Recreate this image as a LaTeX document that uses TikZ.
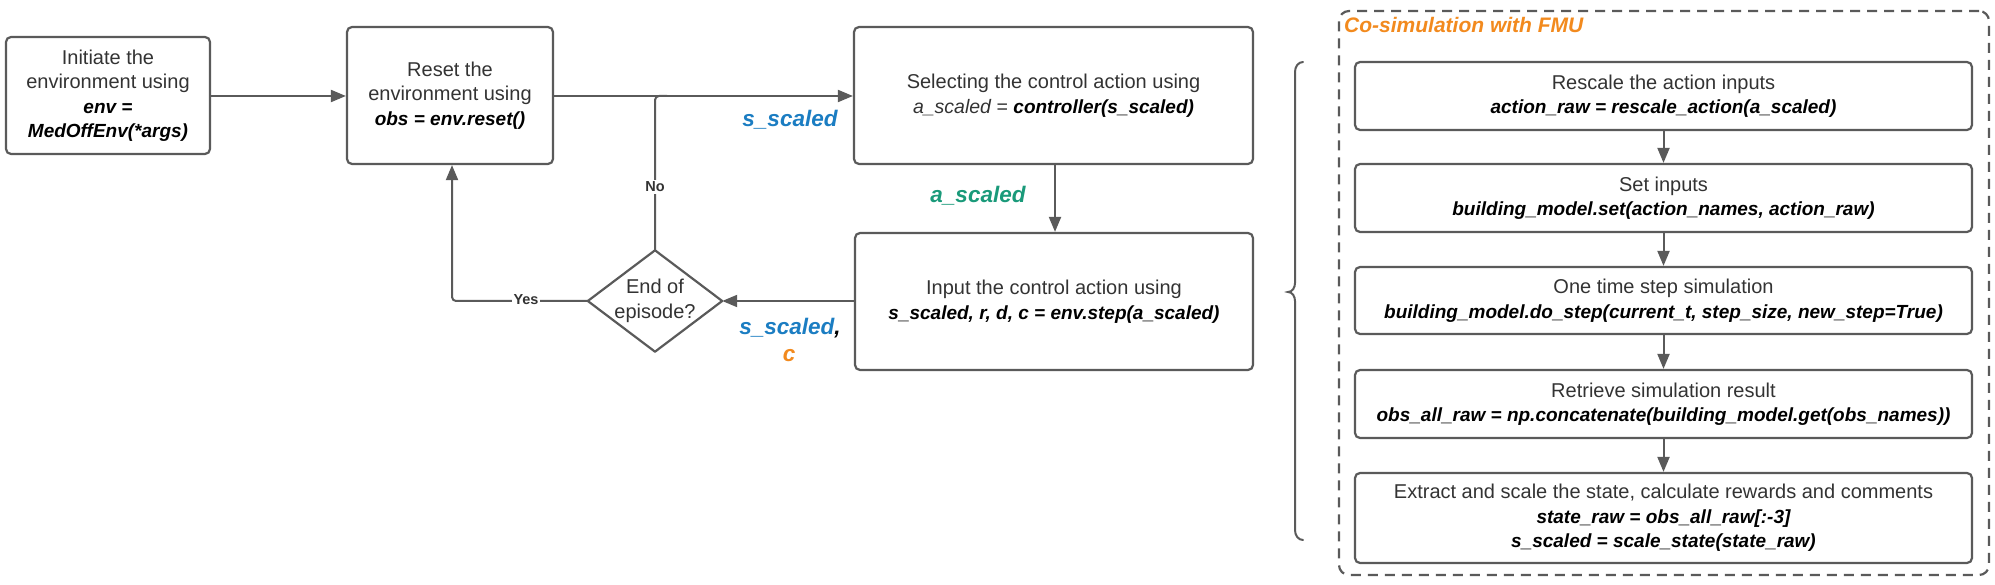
\documentclass[tikz,border=0pt]{standalone}
\usepackage{fontspec}
\setmainfont{Liberation Sans}
\usetikzlibrary{arrows.meta}
\definecolor{ln}{HTML}{5A5A5A}
\definecolor{tx}{HTML}{333333}
\definecolor{sblue}{HTML}{1B7DC2}
\definecolor{agreen}{HTML}{1A9A7A}
\definecolor{corange}{HTML}{F28A1E}
\newcommand\bi[1]{{\fontsize{19}{25}\selectfont\color{black}\bfseries\itshape #1}}
\newcommand\ri[1]{{\fontsize{19.5}{25}\selectfont\itshape #1}}
\begin{document}
\begin{tikzpicture}[x=1pt,y=-1pt,
 box/.style={draw=ln, line width=2.2pt, rounded corners=5pt, align=center, text=tx, inner sep=0pt, font=\fontsize{20}{24.5}\selectfont},
 conn/.style={draw=ln, line width=2pt, -{Triangle[length=15pt,width=12pt]}},
 plain/.style={draw=ln, line width=2pt},
 lab/.style={font=\fontsize{22.5}{27}\selectfont\bfseries\itshape, inner sep=0pt},
 small/.style={font=\fontsize{14.5}{17}\selectfont\bfseries, text=tx, fill=white, inner sep=1.5pt}
]
\useasboundingbox (0,0) rectangle (1995,585);

% left flow
\node[box, minimum width=204pt, minimum height=117pt] (init) at (108,95.5)
  {Initiate the\\environment using\\\bi{env =}\\\bi{MedOffEnv(*args)}};
\node[box, minimum width=206pt, minimum height=137pt] (reset) at (450,95.5)
  {Reset the\\environment using\\\bi{obs = env.reset()}};
\node[box, minimum width=399pt, minimum height=137pt] (select) at (1053.5,95.5)
  {Selecting the control action using\\\ri{a\_scaled =} \bi{controller(s\_scaled)}};
\node[box, minimum width=398pt, minimum height=137pt] (input) at (1054,301.5)
  {Input the control action using\\\bi{s\_scaled, r, d, c = env.step(a\_scaled)}};
\node[align=center, text=tx, inner sep=0pt, minimum width=134pt, minimum height=101pt,
  font=\fontsize{20}{24.5}\selectfont] (dia) at (655,301) {End of\\episode?};
\draw[draw=ln, line width=2.2pt, line join=round] (dia.north) -- (dia.east) -- (dia.south) -- (dia.west) -- cycle;

\draw[conn] (init.east |- 0,96) -- (reset.west |- 0,96);
\draw[conn] (reset.east |- 0,96) -- (select.west |- 0,96);
\draw[plain, rounded corners=4pt] (dia.north) -- (dia.north |- 0,96) -- ++(12,0);
\draw[conn] (select.south -| 0,0) ++(1055,0) coordinate (sa) -- (sa |- input.north);
\draw[conn] (input.west |- dia.east) -- (dia.east);
\draw[conn, rounded corners=4pt] (dia.west) -| (reset.south -| 452,0);

\node[small] (yes) at (526,300) {Yes};
\node[small] (no) at (655,187) {No};

\node[lab, text=sblue] (ls1) at (790,120) {s\_scaled};
\node[lab, text=agreen] (la) at (978,196) {a\_scaled};
\node[lab] (ls2) at (790,328) {\textcolor{sblue}{s\_scaled}\textcolor{black}{,}};
\node[lab, text=corange] (lc) at (789,356) {c};

% brace
\draw[ln, line width=2pt, line cap=round]
  (1303,62) to[out=180,in=90] (1295,72) -- (1295,283)
  to[out=-90,in=0] (1288,292) to[out=0,in=90] (1295,301)
  -- (1295,530) to[out=-90,in=180] (1303,540);

% FMU group
\node[draw=ln, line width=2.2pt, dash pattern=on 10pt off 7pt, rounded corners=10pt,
  minimum width=650pt, minimum height=564pt, inner sep=0pt] (grp) at (1664,293) {};
\node[anchor=west, text=corange, font=\fontsize{21}{25}\selectfont\bfseries\itshape, inner sep=0pt]
  (title) at (1344,25) {Co-simulation with FMU};

\node[box, minimum width=617pt, minimum height=68pt] (b1) at (1663.5,96)
  {Rescale the action inputs\\\bi{action\_raw = rescale\_action(a\_scaled)}};
\node[box, minimum width=617pt, minimum height=68pt] (b2) at (1663.5,198)
  {Set inputs\\\bi{building\_model.set(action\_names, action\_raw)}};
\node[box, minimum width=617pt, minimum height=67pt] (b3) at (1663.5,300.5)
  {One time step simulation\\\bi{building\_model.do\_step(current\_t, step\_size, new\_step=True)}};
\node[box, minimum width=617pt, minimum height=68pt] (b4) at (1663.5,404)
  {Retrieve simulation result\\\bi{obs\_all\_raw = np.concatenate(building\_model.get(obs\_names))}};
\node[box, minimum width=617pt, minimum height=90pt] (b5) at (1663.5,518)
  {Extract and scale the state, calculate rewards and comments\\\bi{state\_raw = obs\_all\_raw[:-3]}\\\bi{s\_scaled = scale\_state(state\_raw)}};

\draw[conn] (b1) -- (b2);
\draw[conn] (b2) -- (b3);
\draw[conn] (b3) -- (b4);
\draw[conn] (b4) -- (b5);
\end{tikzpicture}
\end{document}
